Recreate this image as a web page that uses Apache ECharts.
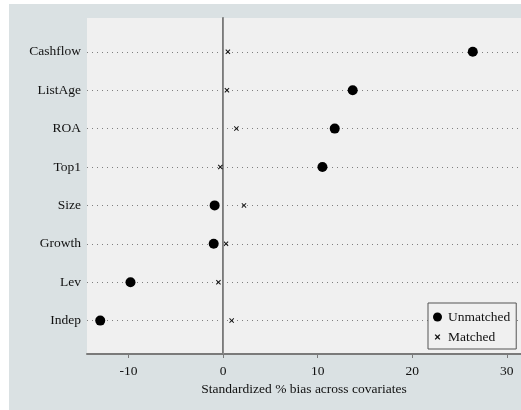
<!DOCTYPE html>
<html>
<head>
<meta charset="utf-8">
<script src="https://cdn.jsdelivr.net/npm/echarts@6/dist/echarts.min.js"></script>
<style>
  html, body { margin: 0; padding: 0; background: #ffffff; }
  #chart { position: absolute; left: 9px; top: 4px; width: 512px; height: 406px; background: #dae1e3; }
</style>
</head>
<body>
<div id="chart"></div>
<script>
// covariates, top to bottom
const covariates = ["Cashflow", "ListAge", "ROA", "Top1", "Size", "Growth", "Lev", "Indep"];
const unmatchedBias = [26.4, 13.7, 11.8, 10.5, -0.9, -1.0, -9.8, -13.0];
const matchedBias = [0.5, 0.4, 1.4, -0.3, 2.2, 0.3, -0.5, 0.9];
const xTicks = [-10, 0, 10, 20, 30];
const rowPos = covariates.map((c, i) => i + 1);

const serif = "Liberation Serif";
const crossPath = "path://M0,1.4L1.4,0L5,3.6L8.6,0L10,1.4L6.4,5L10,8.6L8.6,10L5,6.4L1.4,10L0,8.6L3.6,5Z";
// same cross with empty margin so the legend icon stays small
const crossIcon = "path://M-3,-3M13,13M0,1.6L1.6,0L5,3.4L8.4,0L10,1.6L6.6,5L10,8.4L8.4,10L5,6.6L1.6,10L0,8.4L3.4,5Z";

const chart = echarts.init(document.getElementById("chart"));

chart.setOption({
  backgroundColor: "transparent",
  animation: false,
  textStyle: { fontFamily: serif },
  grid: {
    left: 78,
    top: 14,
    right: 0,
    bottom: 56,
    show: true,
    backgroundColor: "#f0f0f0",
    borderWidth: 0,
  },
  xAxis: {
    type: "value",
    min: -14.4,
    max: 31.5,
    name: "Standardized % bias across covariates",
    nameLocation: "middle",
    nameGap: 21,
    nameTextStyle: { fontFamily: serif, fontSize: 13.5, color: "#111" },
    axisLine: { show: true, lineStyle: { color: "#7a7a7a", width: 2 } },
    axisTick: { show: true, customValues: xTicks, length: 4, lineStyle: { color: "#7a7a7a", width: 1 } },
    axisLabel: { customValues: xTicks, margin: 10, fontFamily: serif, fontSize: 13.5, color: "#111" },
    splitLine: { show: false },
  },
  yAxis: {
    type: "value",
    inverse: true,
    min: 0.12,
    max: 8.87,
    axisLine: { show: true, lineStyle: { color: "#7a7a7a", width: 2 } },
    axisTick: { show: false, customValues: rowPos },
    axisLabel: {
      customValues: rowPos,
      margin: 6,
      fontFamily: serif,
      fontSize: 13.5,
      color: "#111",
      formatter: v => covariates[Math.round(v) - 1] || "",
    },
    splitLine: { show: true, lineStyle: { color: "#7f7f7f", type: [1, 4], width: 1 } },
  },
  legend: {
    orient: "vertical",
    left: 419,
    top: 299,
    padding: [7, 6, 5, 5],
    itemGap: 6,
    itemWidth: 9,
    itemHeight: 9,
    backgroundColor: "#f0f0f0",
    borderColor: "#555555",
    borderWidth: 1,
    textStyle: { fontFamily: serif, fontSize: 13.5, color: "#111", padding: [0, 0, 0, 1] },
    data: [
      { name: "Unmatched", icon: "circle", itemStyle: { color: "#000", opacity: 1 } },
      { name: "Matched", icon: crossIcon, itemStyle: { color: "#111", opacity: 1 } },
    ],
  },
  series: [
    {
      name: "Unmatched",
      type: "scatter",
      symbol: "circle",
      symbolSize: 10,
      itemStyle: { color: "#000000", opacity: 1 },
      data: unmatchedBias.map((v, i) => [v, rowPos[i]]),
      markLine: {
        silent: true,
        symbol: "none",
        label: { show: false },
        lineStyle: { color: "#8c8c8c", type: "solid", width: 1 },
        data: [{ xAxis: 0 }],
      },
    },
    {
      name: "Matched",
      type: "scatter",
      symbol: crossPath,
      symbolSize: 5,
      itemStyle: { color: "#111111", opacity: 1 },
      data: matchedBias.map((v, i) => [v, rowPos[i]]),
    },
  ],
});
</script>
</body>
</html>
